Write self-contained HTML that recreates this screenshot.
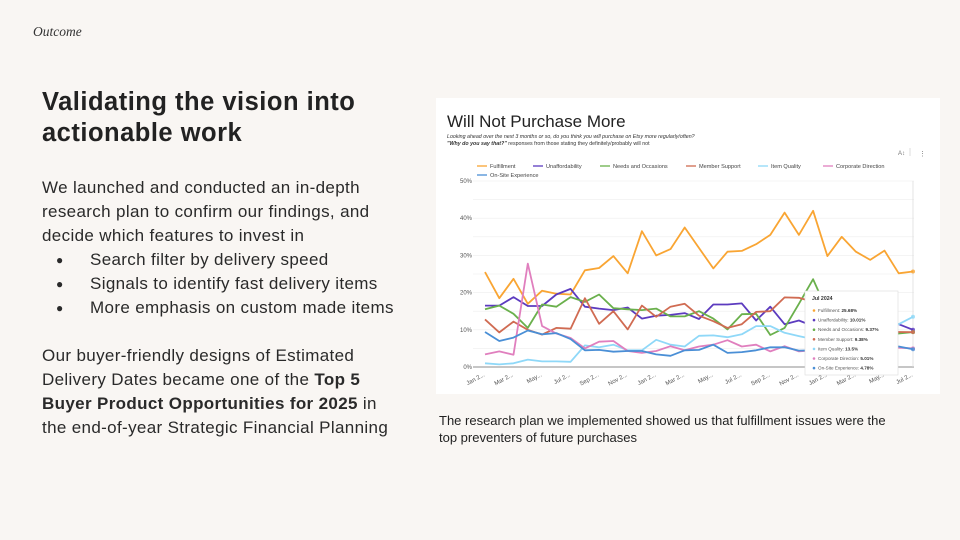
<!DOCTYPE html>
<html><head><meta charset="utf-8">
<style>
body{margin:0;background:#f9f6f3;}
#slide{position:relative;width:960px;height:540px;background:#f9f6f3;overflow:hidden;font-family:"Liberation Sans",sans-serif;color:#222;}
.abs{position:absolute;}
#eyebrow{left:33px;top:24px;font-family:"Liberation Serif",serif;font-style:italic;font-size:13.5px;color:#333;}
#heading{left:42px;top:87px;font-size:25.5px;font-weight:bold;line-height:31px;letter-spacing:0.5px;}
.body{left:42px;font-size:17px;line-height:24px;letter-spacing:0.35px;color:#2a2a2a;}
.bullet{position:relative;padding-left:48px;}
.bullet:before{content:"●";position:absolute;left:14px;font-size:12px;}
#caption{left:439px;top:412px;font-size:13px;line-height:17px;color:#222;width:510px;}
</style></head>
<body>
<div id="slide">
<div class="abs" id="eyebrow">Outcome</div>
<div class="abs" id="heading">Validating the vision into<br>actionable work</div>
<div class="abs body" style="top:176px">We launched and conducted an in-depth<br>research plan to confirm our findings, and<br>decide which features to invest in
<div class="bullet">Search filter by delivery speed</div>
<div class="bullet">Signals to identify fast delivery items</div>
<div class="bullet">More emphasis on custom made items</div>
</div>
<div class="abs body" style="top:344px">Our buyer-friendly designs of Estimated<br>Delivery Dates became one of the <b>Top 5<br>Buyer Product Opportunities for 2025</b> in<br>the end-of-year Strategic Financial Planning</div>
<div class="abs" id="caption">The research plan we implemented showed us that fulfillment issues were the<br>top preventers of future purchases</div>

<svg class="abs" style="left:436px;top:98px" width="504" height="296" viewBox="436 98 504 296" id="chart">
<rect x="436" y="98" width="504" height="296" fill="#fff"/>
<text x="447" y="127" font-size="17" fill="#222">Will Not Purchase More</text>
<text x="447" y="138" font-size="5.3" font-style="italic" fill="#333">Looking ahead over the next 3 months or so, do you think you will purchase on Etsy more regularly/often?</text>
<text x="447" y="145" font-size="5.3" fill="#333"><tspan font-weight="bold" font-style="italic">"Why do you say that?"</tspan> responses from those stating they definitely/probably will not</text>
<text x="898" y="155" font-size="6" fill="#777">A↕</text>
<line x1="910" y1="148" x2="910" y2="156" stroke="#ddd"/>
<text x="919" y="156" font-size="7" fill="#777">⋮</text>
<g id="legend"></g>
<g id="grid"></g>
<g id="xlabels"></g>
<g id="series"></g>
<g id="tooltip">
<rect x="805" y="291" width="93" height="84" fill="#fff" stroke="#ddd" stroke-width="0.6"/>
<text x="812" y="300" font-size="5.2" font-weight="bold" fill="#333">Jul 2024</text>
<g id="tiprows"></g>
</g>
</svg>
</div>
<script>
const categories=["Jan 2022","Feb 2022","Mar 2022","Apr 2022","May 2022","Jun 2022","Jul 2022","Aug 2022","Sep 2022","Oct 2022","Nov 2022","Dec 2022","Jan 2023","Feb 2023","Mar 2023","Apr 2023","May 2023","Jun 2023","Jul 2023","Aug 2023","Sep 2023","Oct 2023","Nov 2023","Dec 2023","Jan 2024","Feb 2024","Mar 2024","Apr 2024","May 2024","Jun 2024","Jul 2024"];
const seriesNames=["Fulfillment","Unaffordability","Needs and Occasions","Member Support","Item Quality","Corporate Direction","On-Site Experience"];
const seriesColors=["#f9a533","#5c3bbf","#6ab04c","#d06b52","#8fd8f8","#e07fbe","#4a8fd6"];
const fulfillment=[25.5,18.5,23.7,17,20.5,19.7,19.5,26,26.6,29.8,25.2,36.5,30,31.7,37.5,32,26.5,31,31.2,33,35.5,41.5,35.5,42,29.8,35,31,28.8,31.3,25.2,25.68];
const unaffordability=[16.5,16.5,18.8,16.4,16.4,19.5,21,16.2,15.7,15.3,16,13,13.8,14,14.5,12.9,16.8,16.8,17.1,12.5,16.2,11.5,12.5,11,12,13,12,12.5,12.5,11.5,10.01];
const needs=[15.5,16.5,14.3,10.5,16.8,16.2,18.8,17.5,19.5,15.8,15.5,15.3,15.7,13.6,13.6,15,13,10.1,14.2,14.3,8.6,10.5,17,23.6,15,12,10,9,8.3,9,9.37];
const memberSupport=[12.8,9.3,12.2,10,8.7,10.5,10.3,18.5,11.6,15,10.1,16.5,13.5,16.2,17,13.8,12.3,10.5,11.5,14.8,15,18.7,18.6,17.5,16,14,12,10,9.5,9.4,9.38];
const itemQuality=[1,0.7,1,2,1.5,1.5,1.4,5.8,5.3,6,4.5,4.5,7.3,6,5.5,8.4,8.5,8,8.8,11,11,9.2,8.3,7.5,7,7,8,9,10,11.5,13.5];
const corporate=[3.4,4.2,3.3,27.8,11,9,7.8,5,6.8,7,4.3,3.8,4.3,5.6,4.5,5.5,6,7.2,5.5,6,4.2,5.6,4.2,4.5,5,5,5,5.5,5.5,5.2,5.01];
const onsite=[9.4,7,7.9,9.8,8.8,9.1,7.5,4.5,4.6,4.1,4.3,4.3,3.4,3,4.5,4.6,6,3.8,4,4.5,5.3,5.3,4.4,4.5,4.5,5,5,5.5,5.5,5.5,4.78];
const yTicks=[0,10,20,30,40,50];
const tipLabels=["Fulfillment: 25.68%","Unaffordability: 10.01%","Needs and Occasions: 9.37%","Member Support: 9.38%","Item Quality: 13.5%","Corporate Direction: 5.01%","On-Site Experience: 4.78%"];

const allSeries=[fulfillment,unaffordability,needs,memberSupport,itemQuality,corporate,onsite];
const NS="http://www.w3.org/2000/svg";
const X0=485,X1=913,Y0=367,Y1=181;
function xScale(i){return X0+(X1-X0)*i/(categories.length-1);}
function yScale(v){return Y0-(Y0-Y1)*v/50;}
function mk(tag,attrs,parent){const e=document.createElementNS(NS,tag);for(const k in attrs)e.setAttribute(k,attrs[k]);parent.appendChild(e);return e;}

const grid=document.getElementById('grid');
for(let v=0;v<=50;v+=5){
  const l=mk('line',{x1:473,x2:914,y1:yScale(v),y2:yScale(v),stroke:v===0?'#666':'#eee','stroke-width':v===0?0.8:0.6},grid);
  
  
}
mk('line',{x1:913,x2:913,y1:181,y2:367,stroke:'#ddd','stroke-width':0.8},grid);
yTicks.forEach(v=>{
  const t=mk('text',{x:472,y:yScale(v)+2,'font-size':6,fill:'#555','text-anchor':'end'},grid);
  t.textContent=v+'%';
  
  
});
const xl=document.getElementById('xlabels');
categories.forEach((c,i)=>{
  if(i%2)return;
  const x=xScale(i),y=376;
  const t=mk('text',{x:x,y:y,'font-size':6,fill:'#555','text-anchor':'end',transform:`rotate(-28 ${x} ${y})`},xl);
  t.textContent=c.startsWith('May')?'May...':c.slice(0,5)+'...';
  
  
});
const leg=document.getElementById('legend');
const legPos=[[477,166],[533,166],[600,166],[686,166],[758,166],[823,166],[477,175]];
seriesNames.forEach((n,k)=>{
  const [x,y]=legPos[k];
  const g=mk('g',{},leg);
  
  
  mk('line',{x1:x,x2:x+10,y1:y,y2:y,stroke:seriesColors[k],'stroke-width':1.3},g);
  const t=mk('text',{x:x+13,y:y+2,'font-size':5.6,fill:'#444'},g);
  t.textContent=n;
});
const sg=document.getElementById('series');
allSeries.forEach((arr,k)=>{
  const d=arr.map((v,i)=>(i?'L':'M')+xScale(i).toFixed(1)+' '+yScale(v).toFixed(1)).join(' ');
  const p=mk('path',{d:d,fill:'none',stroke:seriesColors[k],'stroke-width':1.8,'stroke-linejoin':'round'},sg);
  
  
  const last=arr.length-1;
  mk('circle',{cx:xScale(last),cy:yScale(arr[last]),r:2,fill:seriesColors[k],opacity:0.8},sg);
});
const tr=document.getElementById('tiprows');
tipLabels.forEach((s,k)=>{
  const y=312+k*9.6;
  mk('circle',{cx:814,cy:y-1.5,r:1.3,fill:seriesColors[k]},tr);
  const t=mk('text',{x:818,y:y,'font-size':4.6,fill:'#555'},tr);
  const parts=s.split(': ');
  t.textContent=parts[0]+': ';
  const b=mk('tspan',{'font-weight':'bold',fill:'#333'},t);
  b.textContent=parts[1];
  
  
});
</script>
</body></html>
